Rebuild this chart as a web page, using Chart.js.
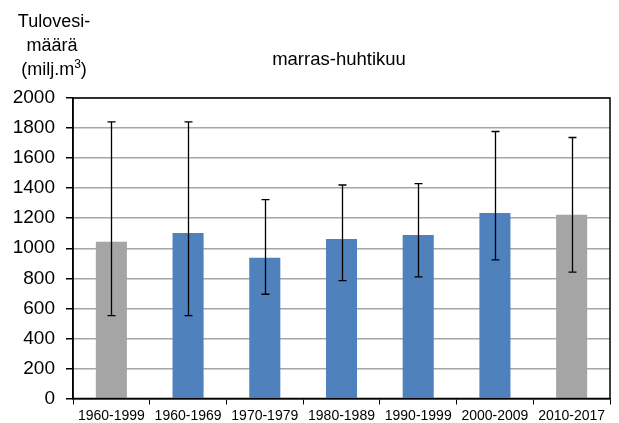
<!DOCTYPE html>
<html>
<head>
<meta charset="utf-8">
<script src="https://cdn.jsdelivr.net/npm/chart.js@4"></script>
<style>
  html, body { margin: 0; padding: 0; background: #fff; }
  #wrap { width: 619px; height: 423px; position: relative; }
</style>
</head>
<body>
<div id="wrap"><canvas id="myChart" width="619" height="423"></canvas></div>
<script>
const jaksot = ["1960-1999", "1960-1969", "1970-1979", "1980-1989", "1990-1999", "2000-2009", "2010-2017"];
const keskiarvot = [1043, 1101, 937, 1061, 1088, 1234, 1223];
const minimit = [552, 552, 694, 785, 810, 923, 841];
const maksimit = [1841, 1841, 1323, 1421, 1430, 1777, 1737];
const varit = ["#A5A5A5", "#4F81BD", "#4F81BD", "#4F81BD", "#4F81BD", "#4F81BD", "#A5A5A5"];
const otsikko = "marras-huhtikuu";
const yOtsikko = ["Tulovesi-", "määrä", "(milj.m"];

const fontti = "Arial, 'Liberation Sans', sans-serif";

// virhepalkit ja kehys
const virhePalkit = {
  id: "virhePalkit",
  afterDatasetsDraw(chart) {
    const ctx = chart.ctx;
    const y = chart.scales.y;
    const meta = chart.getDatasetMeta(0);
    ctx.save();
    ctx.strokeStyle = "#000";
    ctx.lineWidth = 1.3;
    meta.data.forEach((bar, i) => {
      const x = Math.round(bar.x) + 0.5;
      const yl = y.getPixelForValue(minimit[i]);
      const yh = y.getPixelForValue(maksimit[i]);
      ctx.beginPath();
      ctx.moveTo(x, yl);
      ctx.lineTo(x, yh);
      ctx.moveTo(x - 4, yh);
      ctx.lineTo(x + 4, yh);
      ctx.moveTo(x - 4, yl);
      ctx.lineTo(x + 4, yl);
      ctx.stroke();
    });
    const a = chart.chartArea;
    ctx.lineWidth = 1.5;
    ctx.strokeRect(a.left, a.top, a.right - a.left, a.bottom - a.top);
    ctx.restore();
  },
  afterDraw(chart) {
    const ctx = chart.ctx;
    ctx.save();
    ctx.fillStyle = "#000";
    ctx.textAlign = "center";
    ctx.textBaseline = "alphabetic";
    ctx.font = "18.5px " + fontti;
    ctx.fillText(otsikko, 339, 65);
    ctx.font = "18px " + fontti;
    ctx.fillText(yOtsikko[0], 54, 27);
    ctx.fillText(yOtsikko[1], 52, 51);
    // (milj.m3) yläindeksillä
    const w1 = ctx.measureText(yOtsikko[2]).width;
    ctx.font = "12px " + fontti;
    const w2 = ctx.measureText("3").width;
    ctx.font = "18px " + fontti;
    const w3 = ctx.measureText(")").width;
    let x0 = 54 - (w1 + w2 + w3) / 2;
    ctx.textAlign = "left";
    ctx.fillText(yOtsikko[2], x0, 75);
    ctx.font = "12px " + fontti;
    ctx.fillText("3", x0 + w1, 68);
    ctx.font = "18px " + fontti;
    ctx.fillText(")", x0 + w1 + w2, 75);
    ctx.restore();
  }
};

const data = {
  labels: jaksot,
  datasets: [{
    data: keskiarvot,
    backgroundColor: varit,
    borderWidth: 0,
    categoryPercentage: 1,
    barPercentage: 0.405
  }]
};

const config = {
  type: "bar",
  data,
  options: {
    responsive: false,
    animation: false,
    layout: { padding: { top: 98, right: 9, bottom: 0, left: 0 } },
    plugins: { legend: { display: false }, title: { display: false }, tooltip: { enabled: false } },
    scales: {
      x: {
        grid: { drawOnChartArea: false, drawTicks: true, tickLength: 6, tickColor: "#000", offset: true },
        border: { color: "#000", width: 1.5 },
        ticks: { color: "#000", font: { size: 14, family: fontti }, padding: 3, maxRotation: 0, autoSkip: false },
        afterFit(scale) { scale.height = 24.5; }
      },
      y: {
        min: 0,
        max: 2000,
        grid: { color: "#A6A6A6", lineWidth: 1.5, tickLength: 7, tickColor: "#000" },
        border: { color: "#000", width: 1.5 },
        ticks: {
          stepSize: 200, color: "#000", font: { size: 19, family: fontti }, padding: 11,
          callback: (v) => String(v)
        },
        afterFit(scale) { scale.width = 73; }
      }
    }
  },
  plugins: [virhePalkit]
};

const myChart = document.querySelector("#myChart");
new Chart(myChart, config);
</script>
</body>
</html>
